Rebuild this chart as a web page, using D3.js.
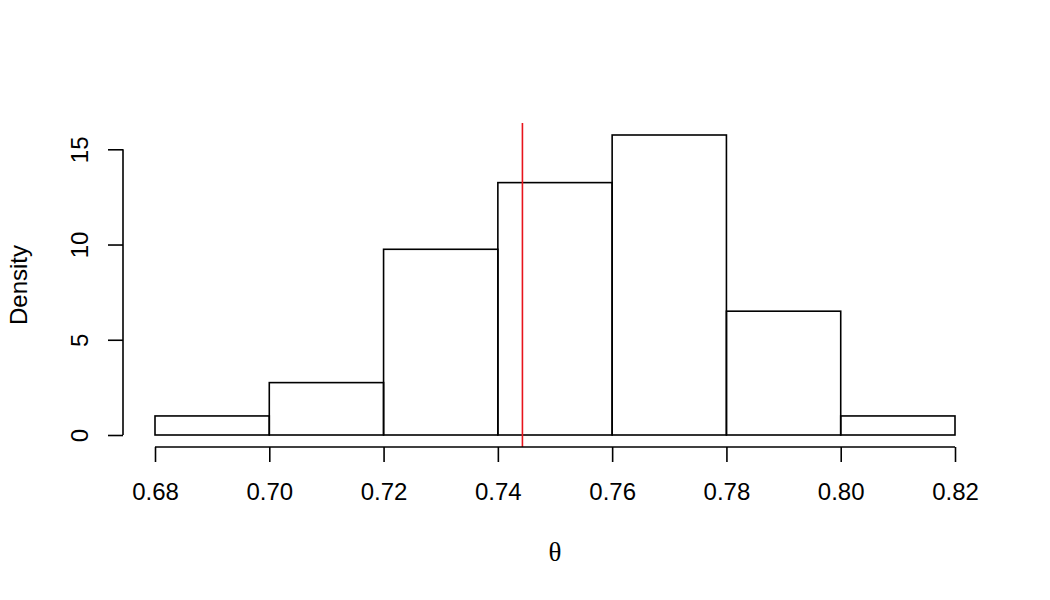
<!DOCTYPE html>
<html>
<head>
<meta charset="utf-8">
<script src="https://cdn.jsdelivr.net/npm/d3@7"></script>
<style>
  body { margin: 0; background: #fff; }
  text { font-family: "Liberation Sans", Arial, sans-serif; }
</style>
</head>
<body>
<svg id="chart"></svg>
<script>
// histogram of theta, density scale
const binStart = [0.68, 0.70, 0.72, 0.74, 0.76, 0.78, 0.80];
const binEnd = [0.70, 0.72, 0.74, 0.76, 0.78, 0.80, 0.82];
const density = [1.0, 2.75, 9.75, 13.25, 15.75, 6.5, 1.0];
const xTicks = [0.68, 0.70, 0.72, 0.74, 0.76, 0.78, 0.80, 0.82];
const yTicks = [0, 5, 10, 15];
const meanTheta = 0.7443;

const width = 1050;
const height = 600;

const svg = d3.select("#chart")
    .attr("width", width)
    .attr("height", height);

// plot region like R's par defaults (4% padding)
const x = d3.scaleLinear()
    .domain([0.6744, 0.8256])
    .range([123, 987]);

const y = d3.scaleLinear()
    .domain([-0.63, 16.38])
    .range([447, 123]);

const bars = binStart.map((s, i) => ({ x0: s, x1: binEnd[i], d: density[i] }));

svg.append("g")
    .selectAll("rect")
    .data(bars)
    .enter()
    .append("rect")
    .attr("x", d => x(d.x0))
    .attr("y", d => y(d.d))
    .attr("width", d => x(d.x1) - x(d.x0))
    .attr("height", d => y(0) - y(d.d))
    .attr("fill", "none")
    .attr("stroke", "#000")
    .attr("stroke-width", 1.6);

// red line at the mean
svg.append("line")
    .attr("x1", x(meanTheta))
    .attr("x2", x(meanTheta))
    .attr("y1", y.range()[1])
    .attr("y2", y.range()[0])
    .attr("stroke", "#e8141c")
    .attr("stroke-width", 1.6);

// x axis
const xAxis = svg.append("g")
    .attr("transform", `translate(0,${y.range()[0]})`)
    .call(d3.axisBottom(x).tickValues(xTicks).tickSize(15).tickFormat(d3.format(".2f")));
xAxis.select(".domain").remove();
xAxis.append("line")
    .attr("x1", x(xTicks[0]))
    .attr("x2", x(xTicks[xTicks.length - 1]))
    .attr("stroke", "#000")
    .attr("stroke-width", 1.6);
xAxis.selectAll(".tick line").attr("stroke", "#000").attr("stroke-width", 1.6);
xAxis.selectAll(".tick text")
    .attr("y", 53)
    .attr("dy", null)
    .attr("fill", "#000")
    .attr("font-size", "24px")
    .attr("font-family", "Liberation Sans, Arial, sans-serif");

// y axis
const yAxis = svg.append("g")
    .attr("transform", `translate(${x.range()[0]},0)`)
    .call(d3.axisLeft(y).tickValues(yTicks).tickSize(15));
yAxis.select(".domain").remove();
yAxis.append("line")
    .attr("y1", y(yTicks[0]))
    .attr("y2", y(yTicks[yTicks.length - 1]))
    .attr("stroke", "#000")
    .attr("stroke-width", 1.6);
yAxis.selectAll(".tick line").attr("stroke", "#000").attr("stroke-width", 1.6);
yAxis.selectAll(".tick text")
    .attr("x", null)
    .attr("dy", null)
    .attr("text-anchor", "middle")
    .attr("transform", "translate(-35,0) rotate(-90)")
    .attr("fill", "#000")
    .attr("font-size", "24px")
    .attr("font-family", "Liberation Sans, Arial, sans-serif");

// axis titles
svg.append("text")
    .attr("x", (x.range()[0] + x.range()[1]) / 2)
    .attr("y", 561)
    .attr("text-anchor", "middle")
    .attr("font-size", "27px")
    .style("font-family", "'Liberation Serif', 'DejaVu Serif', serif")
    .text("θ");

svg.append("text")
    .attr("transform", `translate(27,${(y.range()[0] + y.range()[1]) / 2}) rotate(-90)`)
    .attr("text-anchor", "middle")
    .attr("font-size", "24px")
    .text("Density");
</script>
</body>
</html>
